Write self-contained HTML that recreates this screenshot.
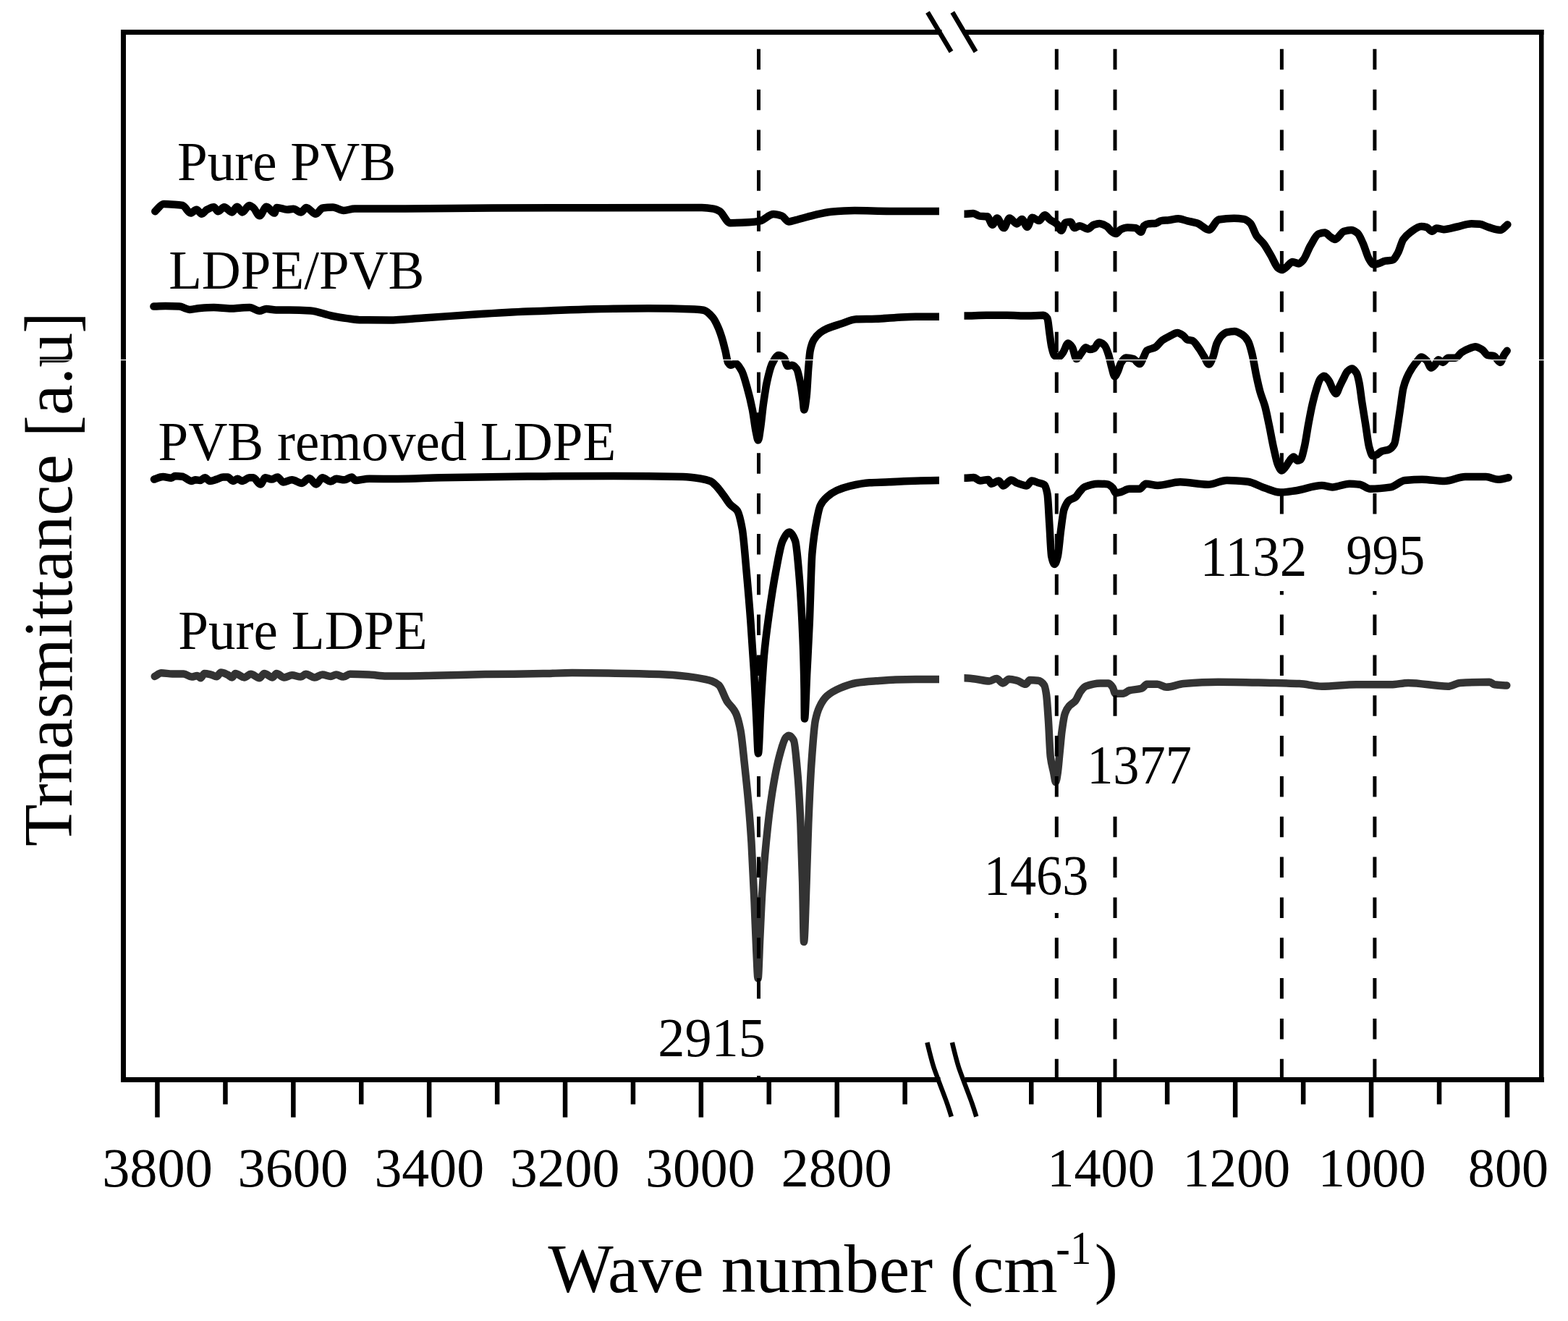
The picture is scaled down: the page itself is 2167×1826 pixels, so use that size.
<!DOCTYPE html>
<html><head><meta charset="utf-8"><title>FTIR spectra</title>
<style>
html,body{margin:0;padding:0;background:#fff;}
body{width:2167px;height:1826px;overflow:hidden;}
svg{display:block;}
text{font-family:"Liberation Serif","Times New Roman",serif;fill:#000;}
</style></head>
<body>
<svg width="2167" height="1826" viewBox="0 0 2167 1826">
<defs>
<clipPath id="clipL"><rect x="0" y="0" width="1298.0" height="1826"/></clipPath>
<clipPath id="clipR"><rect x="1332.5" y="0" width="834.5" height="1826"/></clipPath>
</defs>
<rect width="2167" height="1826" fill="#fff"/>
<g id="spectra">
<g clip-path="url(#clipL)">
<path d="M213.8,934.9 C216.8,933.4 219.9,930.3 222.9,930.3 C228.0,930.3 233.1,931.4 238.2,931.4 C243.3,931.4 248.4,931.4 253.5,931.4 C257.3,931.4 261.1,935.6 264.9,935.6 C267.5,935.6 270.0,934.1 272.6,934.1 C274.1,934.1 275.7,937.2 277.2,937.2 C279.0,937.2 280.7,931.0 282.5,931.0 C285.6,931.0 288.6,931.9 291.7,932.6 C294.2,933.2 296.8,935.2 299.3,935.2 C301.3,935.2 303.4,929.5 305.4,929.5 C308.5,929.5 311.5,931.2 314.6,932.6 C316.6,933.5 318.7,936.4 320.7,936.4 C322.2,936.4 323.8,931.0 325.3,931.0 C329.4,931.0 333.4,936.4 337.5,936.4 C340.6,936.4 343.6,931.8 346.7,931.8 C350.6,931.8 354.5,937.2 358.4,937.2 C360.7,937.2 363.0,931.0 365.3,931.0 C369.1,931.0 372.9,936.4 376.7,936.4 C378.5,936.4 380.3,931.0 382.1,931.0 C385.7,931.0 389.2,936.4 392.8,936.4 C396.4,936.4 399.9,933.3 403.5,933.3 C407.6,933.3 411.6,935.6 415.7,935.6 C418.0,935.6 420.3,931.8 422.6,931.8 C426.7,931.8 430.7,936.4 434.8,936.4 C438.4,936.4 441.9,932.6 445.5,932.6 C449.3,932.6 453.2,934.9 457.0,934.9 C459.5,934.9 462.1,932.6 464.6,932.6 C467.9,932.6 471.2,935.6 474.5,935.6 C477.6,935.6 480.6,931.8 483.7,931.8 C492.5,931.8 501.2,932.2 510.0,932.6 C518.1,933.0 526.2,934.6 534.3,934.6 C556.2,934.6 578.1,934.1 600.0,933.7 C623.4,933.3 646.8,932.5 670.2,932.1 C696.9,931.7 723.7,931.6 750.4,931.1 C763.8,930.9 777.2,930.1 790.6,930.1 C810.6,930.1 830.7,930.4 850.7,930.7 C870.8,931.0 890.8,931.4 910.9,932.1 C924.3,932.6 937.6,933.7 951.0,935.1 C959.0,936.0 967.1,937.4 975.1,939.1 C978.1,939.7 981.0,940.4 984.0,941.5 C987.2,942.7 990.4,944.3 993.6,947.2 C997.2,950.5 1000.9,963.0 1004.5,968.9 C1008.6,975.5 1012.6,977.0 1016.7,985.3 C1019.0,989.9 1021.2,998.1 1023.5,1009.7 C1025.3,1018.9 1027.1,1039.4 1028.9,1055.9 C1030.7,1072.7 1032.6,1089.4 1034.4,1110.3 C1035.8,1125.9 1037.1,1142.7 1038.5,1164.7 C1039.8,1186.2 1041.2,1216.6 1042.5,1246.3 C1043.4,1267.1 1044.4,1295.9 1045.3,1314.2 C1046.1,1329.2 1046.8,1352.5 1047.6,1352.5 C1048.4,1352.5 1049.3,1317.8 1050.1,1300.6 C1051.2,1277.9 1052.3,1250.2 1053.4,1232.7 C1055.2,1204.0 1057.0,1183.0 1058.8,1164.7 C1061.5,1137.0 1064.3,1113.9 1067.0,1096.7 C1070.6,1073.8 1074.3,1055.2 1077.9,1042.3 C1080.6,1032.7 1083.3,1022.2 1086.0,1019.5 C1087.4,1018.1 1088.7,1016.8 1090.1,1016.8 C1092.4,1016.8 1094.6,1019.3 1096.9,1023.3 C1098.7,1026.5 1100.5,1048.9 1102.3,1069.5 C1103.7,1085.2 1105.0,1107.6 1106.4,1137.5 C1107.3,1157.2 1108.2,1186.6 1109.1,1219.1 C1109.7,1242.0 1110.4,1302.0 1111.0,1302.0 C1112.2,1302.0 1113.4,1250.7 1114.6,1219.1 C1115.5,1195.4 1116.4,1159.4 1117.3,1137.5 C1118.7,1104.2 1120.0,1075.6 1121.4,1055.9 C1123.2,1029.9 1125.0,1005.2 1126.8,996.1 C1128.8,986.2 1130.7,981.1 1132.7,977.0 C1136.0,970.0 1139.4,965.2 1142.7,962.2 C1148.7,956.8 1154.8,953.9 1160.8,951.3 C1168.4,948.1 1175.9,945.2 1183.5,944.0 C1192.6,942.6 1201.6,942.0 1210.7,941.3 C1219.8,940.6 1228.9,939.8 1238.0,939.5 C1247.1,939.2 1256.1,939.0 1265.2,939.0 C1275.8,939.0 1286.4,939.0 1297.0,939.0 C1299.7,939.0 1302.3,939.0 1305.0,939.0" fill="none" stroke="#333" stroke-width="10.5" stroke-linejoin="round" stroke-linecap="round"/>
<path d="M213.0,662.6 C217.1,661.4 221.1,659.1 225.2,659.1 C229.0,659.1 232.9,660.7 236.7,660.7 C238.5,660.7 240.2,658.0 242.0,658.0 C245.3,658.0 248.7,658.4 252.0,658.8 C256.3,659.4 260.7,664.9 265.0,664.9 C266.8,664.9 268.5,663.3 270.3,663.3 C272.3,663.3 274.4,664.1 276.4,664.1 C278.7,664.1 281.0,660.3 283.3,660.3 C285.6,660.3 287.8,664.9 290.1,664.9 C293.2,664.9 296.2,663.5 299.3,662.6 C302.4,661.7 305.4,659.5 308.5,659.5 C310.5,659.5 312.6,659.5 314.6,659.5 C317.1,659.5 319.7,664.9 322.2,664.9 C324.2,664.9 326.3,661.8 328.3,661.8 C330.4,661.8 332.4,664.9 334.5,664.9 C338.0,664.9 341.6,660.3 345.1,660.3 C346.7,660.3 348.4,660.3 350.0,660.3 C353.3,660.3 356.6,669.4 359.9,669.4 C362.2,669.4 364.5,660.3 366.8,660.3 C369.6,660.3 372.4,662.6 375.2,662.6 C378.0,662.6 380.8,659.5 383.6,659.5 C386.2,659.5 388.7,666.4 391.3,666.4 C395.4,666.4 399.4,663.3 403.5,663.3 C408.1,663.3 412.6,667.9 417.2,667.9 C420.5,667.9 423.9,661.0 427.2,661.0 C430.5,661.0 433.8,669.4 437.1,669.4 C439.9,669.4 442.7,660.3 445.5,660.3 C449.3,660.3 453.2,665.6 457.0,665.6 C459.5,665.6 462.1,661.8 464.6,661.8 C468.4,661.8 472.2,663.3 476.0,663.3 C479.3,663.3 482.7,659.5 486.0,659.5 C487.8,659.5 489.5,664.1 491.3,664.1 C497.5,664.1 503.8,661.8 510.0,661.8 C523.2,661.8 536.5,662.0 549.7,662.0 C569.6,662.0 589.5,660.7 609.4,660.3 C649.2,659.5 689.0,658.9 728.8,658.6 C768.6,658.3 808.4,657.9 848.2,657.9 C880.0,657.9 911.9,658.3 943.7,659.1 C951.7,659.3 959.6,660.3 967.6,661.5 C972.4,662.2 977.1,663.1 981.9,665.1 C984.6,666.2 987.3,669.3 990.0,672.0 C993.4,675.4 996.8,680.4 1000.2,684.9 C1003.3,689.0 1006.4,694.4 1009.5,697.7 C1012.6,701.0 1015.7,701.3 1018.8,705.8 C1021.1,709.2 1023.5,718.7 1025.8,731.4 C1027.7,741.9 1029.7,768.4 1031.6,789.5 C1033.5,810.6 1035.5,833.5 1037.4,859.3 C1039.0,880.2 1040.5,902.3 1042.1,929.1 C1043.3,949.1 1044.4,976.4 1045.6,998.8 C1046.4,1013.5 1047.1,1041.5 1047.9,1041.5 C1049.1,1041.5 1050.2,995.3 1051.4,975.6 C1052.9,949.7 1054.5,922.6 1056.0,905.8 C1058.3,880.2 1060.7,864.5 1063.0,847.7 C1066.1,825.4 1069.2,805.7 1072.3,789.5 C1075.4,773.3 1078.5,754.0 1081.6,747.7 C1084.7,741.4 1087.8,735.5 1090.9,735.5 C1093.6,735.5 1096.4,740.4 1099.1,747.7 C1101.0,752.9 1103.0,777.5 1104.9,801.2 C1106.4,820.0 1108.0,845.0 1109.5,882.6 C1110.2,898.9 1110.8,913.3 1111.5,952.3 C1111.6,960.1 1111.8,993.5 1111.9,993.5 C1113.0,993.5 1114.2,951.0 1115.3,929.0 C1116.5,906.3 1117.6,885.9 1118.8,859.3 C1120.0,832.7 1121.1,780.4 1122.3,766.3 C1124.6,738.8 1126.8,728.6 1129.1,717.1 C1130.6,709.5 1132.1,702.1 1133.6,699.0 C1136.6,692.7 1139.7,689.9 1142.7,687.2 C1147.2,683.1 1151.8,680.2 1156.3,678.1 C1162.3,675.3 1168.4,673.2 1174.4,671.8 C1183.5,669.7 1192.6,667.7 1201.7,667.2 C1210.8,666.7 1219.8,666.7 1228.9,666.3 C1238.0,665.9 1247.0,665.3 1256.1,665.0 C1269.7,664.5 1283.4,664.0 1297.0,664.0 C1299.7,664.0 1302.3,664.0 1305.0,664.0" fill="none" stroke="#000" stroke-width="10.5" stroke-linejoin="round" stroke-linecap="round"/>
<path d="M212.4,423.6 C217.8,423.4 223.3,423.1 228.7,423.1 C235.1,423.1 241.4,423.3 247.8,423.6 C252.6,423.8 257.3,427.9 262.1,427.9 C266.9,427.9 271.6,426.3 276.4,426.0 C282.8,425.5 289.1,425.1 295.5,425.1 C303.5,425.1 311.4,426.5 319.4,426.5 C324.2,426.5 328.9,425.7 333.7,425.5 C337.5,425.3 341.4,425.1 345.2,425.1 C349.6,425.1 354.1,429.8 358.5,429.8 C361.7,429.8 364.9,427.0 368.1,427.0 C372.6,427.0 377.0,428.4 381.5,428.4 C387.7,428.4 393.8,428.4 400.0,428.4 C409.7,428.4 419.5,428.8 429.2,429.4 C438.8,430.0 448.3,434.6 457.9,436.5 C465.1,437.9 472.2,439.2 479.4,440.1 C486.3,441.0 493.1,442.2 500.0,442.3 C512.6,442.4 525.2,442.5 537.8,442.5 C553.7,442.5 569.6,440.4 585.5,439.4 C609.4,437.8 633.2,436.1 657.1,434.6 C681.0,433.1 704.9,431.6 728.8,430.6 C768.6,428.9 808.4,427.2 848.2,426.7 C864.1,426.5 880.0,426.3 895.9,426.3 C917.3,426.3 938.6,426.7 960.0,427.5 C964.2,427.7 968.3,428.0 972.5,428.7 C976.6,429.4 980.8,433.9 984.9,438.7 C987.4,441.6 989.9,446.8 992.4,452.4 C994.1,456.1 995.7,460.8 997.4,466.1 C999.1,471.4 1000.7,478.1 1002.4,484.8 C1003.7,489.9 1004.9,499.1 1006.2,501.1 C1007.4,503.1 1008.7,504.8 1009.9,504.8 C1012.0,504.8 1014.0,502.3 1016.1,502.3 C1019.0,502.3 1022.0,507.4 1024.9,512.3 C1027.4,516.4 1029.8,526.1 1032.3,534.7 C1034.8,543.5 1037.3,553.3 1039.8,565.9 C1041.5,574.3 1043.1,589.4 1044.8,597.1 C1045.8,601.7 1046.8,608.5 1047.8,608.5 C1048.9,608.5 1050.0,598.1 1051.1,590.9 C1052.3,582.9 1053.6,568.6 1054.8,559.7 C1056.5,547.7 1058.1,536.1 1059.8,528.5 C1062.3,517.1 1064.8,507.1 1067.3,502.3 C1070.2,496.8 1073.1,491.1 1076.0,491.1 C1078.5,491.1 1081.0,492.7 1083.5,494.8 C1085.2,496.2 1086.8,506.0 1088.5,506.0 C1090.6,506.0 1092.6,504.8 1094.7,504.8 C1096.8,504.8 1098.9,507.0 1101.0,509.8 C1102.6,512.0 1104.3,520.5 1105.9,528.5 C1107.2,534.7 1108.4,543.7 1109.7,553.4 C1110.2,557.2 1110.7,566.5 1111.2,566.5 C1112.4,566.5 1113.5,556.8 1114.7,547.2 C1115.5,540.3 1116.4,519.8 1117.2,509.8 C1118.0,499.8 1118.9,488.9 1119.7,484.8 C1121.3,476.7 1123.0,472.7 1124.6,469.9 C1127.5,464.8 1130.5,462.2 1133.4,459.9 C1136.5,457.5 1139.6,455.8 1142.7,454.4 C1148.7,451.7 1154.8,450.0 1160.8,448.1 C1168.4,445.7 1175.9,441.6 1183.5,441.3 C1192.6,441.0 1201.6,441.1 1210.7,440.8 C1219.8,440.5 1228.9,439.5 1238.0,439.0 C1247.1,438.5 1256.1,437.7 1265.2,437.7 C1275.8,437.7 1286.4,437.7 1297.0,437.7 C1299.7,437.7 1302.3,437.7 1305.0,437.7" fill="none" stroke="#000" stroke-width="10.5" stroke-linejoin="round" stroke-linecap="round"/>
<path d="M214.3,292.2 C218.3,288.8 222.3,282.1 226.3,282.1 C231.1,282.1 235.8,282.4 240.6,282.7 C244.6,282.9 248.5,283.2 252.5,283.9 C256.1,284.6 259.7,294.6 263.3,294.6 C266.1,294.6 268.8,289.8 271.6,289.8 C274.0,289.8 276.4,295.8 278.8,295.8 C281.2,295.8 283.6,291.0 286.0,289.8 C289.2,288.2 292.3,286.3 295.5,286.3 C297.5,286.3 299.5,292.2 301.5,292.2 C304.3,292.2 307.0,286.3 309.8,286.3 C313.4,286.3 317.0,293.4 320.6,293.4 C323.0,293.4 325.3,285.7 327.7,285.7 C330.1,285.7 332.5,293.4 334.9,293.4 C338.1,293.4 341.3,283.9 344.5,283.9 C346.5,283.9 348.4,285.9 350.4,287.5 C353.2,289.8 356.0,298.2 358.8,298.2 C362.0,298.2 365.1,285.7 368.3,285.7 C371.9,285.7 375.5,294.6 379.1,294.6 C380.3,294.6 381.5,286.9 382.7,286.9 C387.5,286.9 392.2,289.8 397.0,289.8 C399.8,289.8 402.5,288.7 405.3,288.7 C408.9,288.7 412.5,293.4 416.1,293.4 C418.5,293.4 420.9,286.9 423.3,286.9 C427.7,286.9 432.0,295.8 436.4,295.8 C439.6,295.8 442.7,287.9 445.9,287.5 C450.6,286.8 455.3,286.5 460.0,286.5 C465.0,286.5 470.0,291.0 475.0,291.0 C480.0,291.0 485.0,288.5 490.0,288.5 C513.3,288.5 536.7,288.5 560.0,288.5 C600.0,288.5 640.0,287.6 680.0,287.5 C776.7,287.2 873.3,287.0 970.0,287.0 C975.4,287.0 980.8,287.7 986.2,288.7 C988.9,289.2 991.7,290.4 994.4,291.9 C999.3,294.6 1004.1,308.2 1009.0,308.2 C1017.6,308.2 1026.3,307.8 1034.9,307.3 C1039.8,307.0 1044.7,306.6 1049.6,305.7 C1056.1,304.6 1062.5,296.0 1069.0,296.0 C1072.8,296.0 1076.6,297.1 1080.4,298.4 C1083.6,299.5 1086.9,306.5 1090.1,306.5 C1093.4,306.5 1096.6,304.9 1099.9,304.1 C1108.0,302.0 1116.1,299.5 1124.2,297.6 C1132.3,295.7 1140.5,293.4 1148.6,292.7 C1159.4,291.8 1170.3,291.1 1181.1,291.1 C1197.3,291.1 1213.6,291.9 1229.8,291.9 C1252.3,291.9 1274.7,291.9 1297.2,291.9 C1299.9,291.9 1302.5,291.9 1305.2,291.9" fill="none" stroke="#000" stroke-width="10.5" stroke-linejoin="round" stroke-linecap="round"/>
</g>
<g clip-path="url(#clipR)">
<path d="M1324.9,937.2 C1327.6,937.2 1330.2,937.2 1332.9,937.2 C1338.2,937.2 1343.4,938.1 1348.7,938.7 C1354.9,939.4 1361.1,941.5 1367.3,941.5 C1370.6,941.5 1374.0,937.9 1377.3,937.9 C1380.2,937.9 1383.0,944.4 1385.9,944.4 C1388.8,944.4 1391.6,938.7 1394.5,938.7 C1398.3,938.7 1402.2,939.8 1406.0,940.8 C1409.8,941.8 1413.6,945.8 1417.4,945.8 C1419.3,945.8 1421.3,940.1 1423.2,940.1 C1427.0,940.1 1430.8,940.4 1434.6,940.8 C1437.5,941.1 1440.3,943.1 1443.2,947.2 C1444.2,948.6 1445.1,953.7 1446.1,960.1 C1447.0,966.3 1448.0,982.3 1448.9,996.0 C1449.9,1010.2 1450.8,1038.3 1451.8,1046.1 C1453.2,1057.6 1454.7,1060.7 1456.1,1067.6 C1457.1,1072.2 1458.0,1081.0 1459.0,1081.0 C1459.9,1081.0 1460.9,1073.6 1461.8,1067.6 C1462.8,1061.4 1463.7,1048.4 1464.7,1038.9 C1465.7,1029.4 1466.6,1017.4 1467.6,1010.3 C1469.0,999.8 1470.5,989.8 1471.9,985.9 C1473.8,980.7 1475.7,978.1 1477.6,975.9 C1480.5,972.6 1483.3,972.0 1486.2,968.7 C1488.6,965.9 1491.0,958.9 1493.4,955.8 C1495.8,952.8 1498.1,949.6 1500.5,948.7 C1507.2,946.1 1513.9,944.4 1520.6,944.4 C1524.4,944.4 1528.2,944.4 1532.0,944.4 C1533.9,944.4 1535.9,947.3 1537.8,950.1 C1539.0,951.8 1540.1,958.7 1541.3,958.7 C1544.9,958.7 1548.5,958.7 1552.1,958.7 C1555.0,958.7 1557.8,955.2 1560.7,954.4 C1566.4,952.9 1572.2,953.3 1577.9,951.5 C1580.3,950.8 1582.6,945.8 1585.0,945.8 C1589.8,945.8 1594.6,945.8 1599.4,945.8 C1603.6,945.8 1607.7,949.8 1611.9,949.8 C1619.9,949.8 1627.8,945.8 1635.8,945.1 C1651.7,943.7 1667.7,942.7 1683.6,942.7 C1707.5,942.7 1731.3,943.4 1755.2,943.9 C1768.7,944.2 1782.3,944.4 1795.8,945.1 C1806.1,945.6 1816.5,948.7 1826.8,948.7 C1842.7,948.7 1858.7,946.3 1874.6,946.3 C1890.5,946.3 1906.4,946.3 1922.3,946.3 C1930.3,946.3 1938.2,943.9 1946.2,943.9 C1964.5,943.9 1982.8,948.7 2001.1,948.7 C2006.7,948.7 2012.3,944.2 2017.9,943.9 C2031.4,943.1 2045.0,942.7 2058.5,942.7 C2060.9,942.7 2063.2,946.0 2065.6,946.3 C2071.2,947.1 2076.7,947.1 2082.3,947.5" fill="none" stroke="#333" stroke-width="10.5" stroke-linejoin="round" stroke-linecap="round"/>
<path d="M1324.9,660.8 C1327.6,660.8 1330.2,660.8 1332.9,660.8 C1337.2,660.8 1341.5,660.1 1345.8,660.1 C1348.7,660.1 1351.5,664.4 1354.4,664.4 C1358.2,664.4 1362.0,662.9 1365.8,662.9 C1367.2,662.9 1368.7,668.7 1370.1,668.7 C1373.5,668.7 1376.8,664.4 1380.2,664.4 C1382.3,664.4 1384.5,671.5 1386.6,671.5 C1390.2,671.5 1393.8,663.6 1397.4,663.6 C1400.3,663.6 1403.1,666.9 1406.0,667.9 C1410.3,669.5 1414.6,671.5 1418.9,671.5 C1421.3,671.5 1423.6,664.4 1426.0,664.4 C1428.9,664.4 1431.7,666.3 1434.6,667.2 C1437.5,668.1 1440.3,668.2 1443.2,670.1 C1444.6,671.1 1446.1,675.5 1447.5,683.0 C1448.5,688.0 1449.4,711.4 1450.4,726.0 C1451.3,740.1 1452.3,764.6 1453.2,768.9 C1454.6,775.6 1456.1,780.0 1457.5,780.0 C1458.9,780.0 1460.4,774.5 1461.8,768.9 C1463.2,763.3 1464.7,743.7 1466.1,733.1 C1467.5,722.5 1469.0,708.8 1470.4,704.5 C1472.8,697.4 1475.2,693.5 1477.6,691.6 C1480.5,689.3 1483.3,689.4 1486.2,687.3 C1488.1,685.9 1490.0,682.2 1491.9,680.1 C1494.3,677.4 1496.7,674.0 1499.1,673.0 C1505.3,670.4 1511.5,668.7 1517.7,668.7 C1522.0,668.7 1526.3,668.9 1530.6,669.4 C1533.0,669.7 1535.4,672.0 1537.8,674.4 C1539.2,675.9 1540.7,681.5 1542.1,681.5 C1544.5,681.5 1546.8,680.7 1549.2,680.1 C1553.0,679.1 1556.9,675.8 1560.7,675.8 C1565.5,675.8 1570.2,675.8 1575.0,675.8 C1577.9,675.8 1580.7,668.7 1583.6,668.7 C1589.1,668.7 1594.5,671.0 1600.0,671.0 C1610.3,671.0 1620.7,666.3 1631.0,666.3 C1643.7,666.3 1656.5,669.8 1669.2,669.8 C1678.0,669.8 1686.7,663.9 1695.5,663.9 C1705.1,663.9 1714.6,664.7 1724.2,665.8 C1732.1,666.7 1740.1,672.1 1748.0,674.6 C1755.2,676.9 1762.3,680.6 1769.5,680.6 C1776.7,680.6 1783.8,679.2 1791.0,678.2 C1802.9,676.5 1814.9,671.0 1826.8,671.0 C1831.6,671.0 1836.4,673.4 1841.2,673.4 C1849.1,673.4 1857.1,668.7 1865.0,668.7 C1869.8,668.7 1874.6,669.2 1879.4,669.8 C1884.2,670.4 1888.9,675.8 1893.7,675.8 C1903.2,675.8 1912.8,674.8 1922.3,673.4 C1928.7,672.4 1935.1,664.5 1941.5,663.9 C1949.4,663.2 1957.4,662.7 1965.3,662.7 C1975.7,662.7 1986.0,665.1 1996.4,665.1 C2005.9,665.1 2015.5,659.1 2025.0,659.1 C2034.6,659.1 2044.1,659.1 2053.7,659.1 C2059.3,659.1 2064.8,662.7 2070.4,662.7 C2075.2,662.7 2079.9,661.1 2084.7,660.3" fill="none" stroke="#000" stroke-width="10.5" stroke-linejoin="round" stroke-linecap="round"/>
<path d="M1324.2,436.5 C1326.9,436.5 1329.5,436.5 1332.2,436.5 C1342.5,436.5 1352.7,435.8 1363.0,435.8 C1372.5,435.8 1382.1,435.8 1391.6,435.8 C1401.2,435.8 1410.7,436.5 1420.3,436.5 C1427.5,436.5 1434.6,435.8 1441.8,435.8 C1443.7,435.8 1445.6,437.3 1447.5,440.1 C1448.5,441.5 1449.4,453.5 1450.4,460.1 C1451.3,466.4 1452.3,474.8 1453.2,478.8 C1454.6,484.9 1456.1,491.0 1457.5,491.7 C1459.4,492.6 1461.4,493.1 1463.3,493.1 C1465.2,493.1 1467.1,489.8 1469.0,487.4 C1471.4,484.4 1473.8,474.5 1476.2,474.5 C1478.1,474.5 1480.0,477.4 1481.9,480.2 C1483.8,483.0 1485.7,496.0 1487.6,496.0 C1490.0,496.0 1492.4,490.4 1494.8,487.4 C1496.7,485.1 1498.6,480.2 1500.5,480.2 C1502.4,480.2 1504.3,483.1 1506.2,483.1 C1508.1,483.1 1510.1,482.4 1512.0,481.6 C1514.4,480.6 1516.7,473.0 1519.1,473.0 C1521.5,473.0 1523.9,475.0 1526.3,477.3 C1528.2,479.1 1530.1,484.6 1532.0,490.2 C1533.4,494.4 1534.9,502.5 1536.3,507.4 C1537.7,512.3 1539.2,520.3 1540.6,520.3 C1542.0,520.3 1543.5,516.1 1544.9,513.2 C1546.3,510.3 1547.8,503.9 1549.2,501.7 C1551.6,498.1 1554.0,494.5 1556.4,494.5 C1559.7,494.5 1563.1,495.1 1566.4,496.0 C1569.3,496.7 1572.1,503.1 1575.0,503.1 C1576.9,503.1 1578.8,496.7 1580.7,493.1 C1582.1,490.4 1583.6,485.5 1585.0,484.5 C1588.8,481.8 1592.7,482.3 1596.5,480.2 C1599.8,478.4 1603.2,472.6 1606.5,470.2 C1610.2,467.5 1614.0,465.8 1617.7,464.0 C1620.9,462.5 1624.0,459.9 1627.2,459.9 C1629.9,459.9 1632.7,462.1 1635.4,464.0 C1637.2,465.2 1639.0,468.9 1640.8,469.5 C1643.1,470.2 1645.3,470.1 1647.6,470.8 C1650.8,471.8 1653.9,477.4 1657.1,481.7 C1659.4,484.8 1661.6,489.0 1663.9,492.6 C1666.2,496.2 1668.4,503.5 1670.7,503.5 C1672.5,503.5 1674.4,498.2 1676.2,493.9 C1678.0,489.7 1679.8,478.9 1681.6,474.9 C1683.9,469.8 1686.1,466.2 1688.4,464.0 C1690.7,461.8 1692.9,459.8 1695.2,459.3 C1698.8,458.5 1702.5,457.9 1706.1,457.9 C1709.7,457.9 1713.4,460.3 1717.0,462.7 C1719.7,464.5 1722.5,467.4 1725.2,472.2 C1727.0,475.4 1728.8,482.7 1730.6,489.9 C1732.4,497.3 1734.3,509.8 1736.1,518.4 C1737.9,526.9 1739.7,535.2 1741.5,541.6 C1743.8,549.7 1746.0,553.7 1748.3,562.0 C1750.1,568.6 1751.9,578.0 1753.7,586.5 C1756.0,597.3 1758.2,610.5 1760.5,620.5 C1762.3,628.6 1764.2,638.2 1766.0,642.2 C1767.8,646.1 1769.6,650.4 1771.4,650.4 C1773.2,650.4 1775.1,647.2 1776.9,645.0 C1778.7,642.9 1780.5,638.9 1782.3,636.8 C1784.1,634.6 1786.0,631.4 1787.8,631.4 C1789.6,631.4 1791.4,636.8 1793.2,636.8 C1794.6,636.8 1795.9,636.2 1797.3,635.4 C1799.1,634.3 1800.9,625.3 1802.7,617.8 C1804.5,610.2 1806.4,596.3 1808.2,586.5 C1810.0,576.9 1811.8,567.1 1813.6,559.3 C1815.4,551.5 1817.2,544.5 1819.0,538.8 C1820.8,533.0 1822.7,526.1 1824.5,523.9 C1826.3,521.8 1828.1,519.8 1829.9,519.8 C1832.2,519.8 1834.4,523.4 1836.7,526.6 C1838.5,529.2 1840.4,535.8 1842.2,538.8 C1843.6,541.1 1844.9,544.3 1846.3,544.3 C1848.1,544.3 1849.9,537.0 1851.7,533.4 C1853.2,530.4 1854.6,527.3 1856.1,524.5 C1858.2,520.5 1860.2,515.1 1862.3,513.3 C1864.4,511.4 1866.5,509.6 1868.6,509.6 C1870.7,509.6 1872.7,512.4 1874.8,515.8 C1876.0,517.8 1877.3,523.5 1878.5,529.5 C1879.7,535.5 1881.0,547.3 1882.2,555.5 C1883.9,566.5 1885.5,576.1 1887.2,586.6 C1888.8,596.8 1890.5,611.8 1892.1,617.6 C1893.8,623.5 1895.4,630.0 1897.1,630.0 C1898.8,630.0 1900.4,629.4 1902.1,628.8 C1904.6,628.0 1907.0,624.7 1909.5,623.8 C1912.8,622.6 1916.2,622.7 1919.5,621.3 C1922.0,620.3 1924.4,618.3 1926.9,613.9 C1928.6,611.0 1930.2,596.7 1931.9,586.6 C1933.1,579.1 1934.4,570.0 1935.6,561.7 C1936.8,553.4 1938.1,542.1 1939.3,536.9 C1941.0,529.9 1942.6,525.8 1944.3,522.0 C1946.8,516.3 1949.2,512.2 1951.7,508.4 C1954.2,504.5 1956.7,501.2 1959.2,498.4 C1960.9,496.5 1962.5,493.5 1964.2,493.5 C1966.7,493.5 1969.1,496.1 1971.6,498.4 C1973.7,500.4 1975.7,508.4 1977.8,508.4 C1979.5,508.4 1981.1,506.3 1982.8,504.6 C1984.5,502.9 1986.1,497.2 1987.8,497.2 C1989.9,497.2 1991.9,500.9 1994.0,500.9 C1996.5,500.9 1998.9,494.7 2001.4,494.7 C2004.7,494.7 2008.0,494.7 2011.3,494.7 C2014.2,494.7 2017.1,489.1 2020.0,487.2 C2024.1,484.5 2028.3,482.5 2032.4,481.0 C2034.5,480.3 2036.6,479.2 2038.7,479.2 C2042.0,479.2 2045.3,481.5 2048.6,483.5 C2051.1,485.0 2053.5,490.4 2056.0,491.0 C2058.9,491.7 2061.8,491.5 2064.7,492.2 C2067.6,492.9 2070.5,500.9 2073.4,500.9 C2075.1,500.9 2076.7,493.8 2078.4,491.0 C2079.8,488.6 2081.3,486.9 2082.7,484.8" fill="none" stroke="#000" stroke-width="10.5" stroke-linejoin="round" stroke-linecap="round"/>
<path d="M1324.2,295.8 C1326.9,295.8 1329.5,295.8 1332.2,295.8 C1336.5,295.8 1340.8,295.0 1345.1,295.0 C1348.0,295.0 1350.8,298.3 1353.7,298.6 C1357.3,299.0 1360.8,298.8 1364.4,299.3 C1366.8,299.6 1369.2,310.8 1371.6,310.8 C1373.7,310.8 1375.9,301.5 1378.0,301.5 C1381.1,301.5 1384.2,315.1 1387.3,315.1 C1389.9,315.1 1392.6,301.5 1395.2,301.5 C1398.5,301.5 1401.9,309.4 1405.2,309.4 C1407.6,309.4 1410.0,302.9 1412.4,302.9 C1414.8,302.9 1417.2,313.7 1419.6,313.7 C1422.0,313.7 1424.3,300.8 1426.7,300.8 C1429.8,300.8 1432.9,305.1 1436.0,305.1 C1438.6,305.1 1441.3,297.2 1443.9,297.2 C1446.3,297.2 1448.7,301.8 1451.1,303.6 C1454.4,306.1 1457.8,307.0 1461.1,310.1 C1463.0,311.9 1464.9,318.7 1466.8,318.7 C1468.6,318.7 1470.4,308.4 1472.2,307.9 C1474.6,307.2 1476.9,306.8 1479.3,306.8 C1481.2,306.8 1483.2,315.1 1485.1,315.1 C1487.5,315.1 1489.8,312.2 1492.2,312.2 C1495.8,312.2 1499.4,316.5 1503.0,316.5 C1505.9,316.5 1508.7,311.8 1511.6,310.8 C1514.2,309.9 1516.8,309.0 1519.4,309.0 C1522.8,309.0 1526.1,311.0 1529.5,312.9 C1531.9,314.3 1534.2,318.5 1536.6,320.1 C1538.5,321.4 1540.5,323.0 1542.4,323.0 C1544.5,323.0 1546.7,318.2 1548.8,317.2 C1551.9,315.8 1555.0,314.4 1558.1,314.4 C1561.9,314.4 1565.8,314.6 1569.6,315.1 C1572.0,315.4 1574.3,320.8 1576.7,320.8 C1578.1,320.8 1579.6,313.3 1581.0,312.2 C1582.9,310.6 1584.9,309.6 1586.8,309.4 C1590.4,309.0 1593.9,309.1 1597.5,308.7 C1599.9,308.4 1602.3,305.4 1604.7,305.1 C1608.1,304.6 1611.6,304.6 1615.0,304.3 C1619.5,303.8 1624.1,302.3 1628.6,302.3 C1632.7,302.3 1636.9,304.4 1641.0,305.4 C1645.5,306.5 1650.1,307.0 1654.6,308.5 C1660.0,310.2 1665.4,317.8 1670.8,317.8 C1675.3,317.8 1679.9,304.3 1684.4,303.5 C1691.4,302.3 1698.5,301.7 1705.5,301.7 C1710.1,301.7 1714.6,302.2 1719.2,302.9 C1722.1,303.4 1725.0,305.7 1727.9,308.5 C1730.8,311.3 1733.7,321.7 1736.6,325.9 C1739.9,330.7 1743.2,332.6 1746.5,337.0 C1749.8,341.4 1753.1,347.6 1756.4,353.2 C1759.7,358.8 1763.1,368.1 1766.4,370.6 C1768.0,371.8 1769.7,373.1 1771.3,373.1 C1773.4,373.1 1775.5,370.8 1777.6,369.3 C1780.5,367.3 1783.3,361.9 1786.2,361.9 C1789.1,361.9 1792.0,364.4 1794.9,364.4 C1797.0,364.4 1799.0,361.7 1801.1,359.4 C1804.4,355.7 1807.8,345.1 1811.1,339.5 C1814.8,333.3 1818.5,324.8 1822.2,323.4 C1825.1,322.3 1828.0,321.5 1830.9,321.5 C1833.4,321.5 1835.9,325.5 1838.4,327.1 C1840.6,328.5 1842.8,330.9 1845.0,330.9 C1849.1,330.9 1853.3,320.9 1857.4,319.7 C1860.7,318.7 1864.0,317.9 1867.3,317.9 C1870.2,317.9 1873.1,319.9 1876.0,322.2 C1878.5,324.2 1881.0,330.6 1883.5,335.9 C1886.4,342.0 1889.2,353.6 1892.1,358.2 C1894.2,361.6 1896.3,365.7 1898.4,365.7 C1900.5,365.7 1902.5,364.9 1904.6,364.4 C1907.9,363.5 1911.2,361.3 1914.5,360.7 C1917.8,360.1 1921.1,360.3 1924.4,359.5 C1926.9,358.9 1929.4,353.9 1931.9,349.5 C1934.4,345.2 1936.8,334.5 1939.3,330.9 C1942.6,326.1 1946.0,323.4 1949.3,321.0 C1954.3,317.4 1959.2,312.9 1964.2,312.9 C1966.7,312.9 1969.1,313.4 1971.6,314.1 C1974.1,314.8 1976.6,319.7 1979.1,319.7 C1981.2,319.7 1983.2,315.4 1985.3,315.4 C1988.6,315.4 1991.9,317.2 1995.2,317.2 C2001.4,317.2 2007.6,314.8 2013.8,313.5 C2020.4,312.1 2027.1,309.2 2033.7,309.2 C2037.4,309.2 2041.2,309.5 2044.9,309.8 C2049.0,310.2 2053.2,312.9 2057.3,314.1 C2062.7,315.6 2068.0,317.9 2073.4,317.9 C2076.7,317.9 2080.1,312.9 2083.4,310.4" fill="none" stroke="#000" stroke-width="10.5" stroke-linejoin="round" stroke-linecap="round"/>
</g>
</g>
<g id="dashes">
<line x1="1048.5" y1="67.8" x2="1048.5" y2="1492" stroke="#000" stroke-width="5" stroke-dasharray="28.5 27.34"/>
<line x1="1460.3" y1="67.8" x2="1460.3" y2="1492" stroke="#000" stroke-width="5" stroke-dasharray="28.5 27.34"/>
<line x1="1541.0" y1="67.8" x2="1541.0" y2="1492" stroke="#000" stroke-width="5" stroke-dasharray="28.5 27.34"/>
<line x1="1771.4" y1="67.8" x2="1771.4" y2="1492" stroke="#000" stroke-width="5" stroke-dasharray="28.5 27.34"/>
<line x1="1899.9" y1="67.8" x2="1899.9" y2="1492" stroke="#000" stroke-width="5" stroke-dasharray="28.5 27.34"/>
</g>
<g id="boxes" fill="#fff">
<rect x="900" y="1385" width="165" height="102"/>
<rect x="1356" y="1164" width="156" height="98"/>
<rect x="1500" y="1007" width="150" height="101"/>
<rect x="1656" y="720" width="156" height="97"/>
<rect x="1853" y="720" width="122" height="97"/>
</g>
<g id="frame">

<rect x="167" y="41" width="1134.5" height="7" fill="#000"/>
<rect x="1333" y="41" width="800.5" height="7" fill="#000"/>
<rect x="167" y="1489" width="1132.5" height="7" fill="#000"/>
<rect x="1333.5" y="1489" width="800.5" height="7" fill="#000"/>
<rect x="167" y="41" width="7" height="1455" fill="#000"/>
<rect x="2127" y="41" width="6.5" height="1455" fill="#000"/>

<rect x="214.2" y="1492" width="6.5" height="52.5" fill="#000"/>
<rect x="308.2" y="1492" width="6.5" height="34.5" fill="#000"/>
<rect x="402.1" y="1492" width="6.5" height="52.5" fill="#000"/>
<rect x="496.0" y="1492" width="6.5" height="34.5" fill="#000"/>
<rect x="589.9" y="1492" width="6.5" height="52.5" fill="#000"/>
<rect x="683.9" y="1492" width="6.5" height="34.5" fill="#000"/>
<rect x="777.8" y="1492" width="6.5" height="52.5" fill="#000"/>
<rect x="871.7" y="1492" width="6.5" height="34.5" fill="#000"/>
<rect x="965.6" y="1492" width="6.5" height="52.5" fill="#000"/>
<rect x="1059.5" y="1492" width="6.5" height="34.5" fill="#000"/>
<rect x="1153.5" y="1492" width="6.5" height="52.5" fill="#000"/>
<rect x="1247.4" y="1492" width="6.5" height="34.5" fill="#000"/>
<rect x="1422.0" y="1492" width="6.5" height="34.5" fill="#000"/>
<rect x="1516.0" y="1492" width="6.5" height="52.5" fill="#000"/>
<rect x="1609.9" y="1492" width="6.5" height="34.5" fill="#000"/>
<rect x="1703.9" y="1492" width="6.5" height="52.5" fill="#000"/>
<rect x="1797.9" y="1492" width="6.5" height="34.5" fill="#000"/>
<rect x="1891.8" y="1492" width="6.5" height="52.5" fill="#000"/>
<rect x="1985.8" y="1492" width="6.5" height="34.5" fill="#000"/>
<rect x="2079.8" y="1492" width="6.5" height="52.5" fill="#000"/>

<line x1="1282" y1="17" x2="1314.5" y2="71.5" stroke="#000" stroke-width="6.5"/>
<line x1="1316.3" y1="17" x2="1348.5" y2="71.5" stroke="#000" stroke-width="6.5"/>
<path d="M1281.4,1441 C1285,1456 1288,1468 1291,1477 C1297,1494 1303,1509 1307,1520 C1310,1528 1312.5,1536 1314.8,1543.5" fill="none" stroke="#000" stroke-width="6.5"/>
<path d="M1315.9,1441 C1319.5,1456 1322.5,1468 1325.5,1477 C1331.5,1494 1337.5,1509 1341.5,1520 C1344.5,1528 1347,1536 1349.3,1543.5" fill="none" stroke="#000" stroke-width="6.5"/>

</g>
<g id="text">
<text transform="translate(244.95,249.00) scale(0.7509,0.7511)" font-size="100">Pure PVB</text>
<text transform="translate(233.16,399.00) scale(0.7481,0.7618)" font-size="100">LDPE/PVB</text>
<text transform="translate(218.45,635.50) scale(0.7496,0.7649)" font-size="100">PVB removed LDPE</text>
<text transform="translate(246.14,897.40) scale(0.7520,0.7618)" font-size="100">Pure LDPE</text>
<text transform="translate(909.26,1459.64) scale(0.7431,0.7612)" font-size="100">2915</text>
<text transform="translate(1359.79,1235.72) scale(0.7230,0.7791)" font-size="100">1463</text>
<text transform="translate(1502.18,1082.53) scale(0.7239,0.7687)" font-size="100">1377</text>
<text transform="translate(1658.42,795.02) scale(0.7538,0.7761)" font-size="100">1132</text>
<text transform="translate(1860.22,793.33) scale(0.7273,0.7746)" font-size="100">995</text>
<text transform="translate(141.18,1640.23) scale(0.7634,0.7674)" font-size="100">3800</text>
<text transform="translate(328.48,1640.23) scale(0.7634,0.7674)" font-size="100">3600</text>
<text transform="translate(517.41,1640.23) scale(0.7586,0.7674)" font-size="100">3400</text>
<text transform="translate(704.71,1640.23) scale(0.7586,0.7674)" font-size="100">3200</text>
<text transform="translate(892.01,1640.23) scale(0.7581,0.7674)" font-size="100">3000</text>
<text transform="translate(1079.55,1640.23) scale(0.7661,0.7674)" font-size="100">2800</text>
<text transform="translate(1447.21,1640.23) scale(0.7439,0.7674)" font-size="100">1400</text>
<text transform="translate(1634.51,1640.23) scale(0.7439,0.7674)" font-size="100">1200</text>
<text transform="translate(1821.81,1640.23) scale(0.7439,0.7674)" font-size="100">1000</text>
<text transform="translate(2028.83,1640.23) scale(0.7415,0.7674)" font-size="100">800</text>
<text transform="translate(757.40,1785.50) scale(0.9568,0.9542)" font-size="100">Wave number (cm</text>
<text transform="translate(1459.34,1747.10) scale(0.5878,0.6576)" font-size="100">-1</text>
<text transform="translate(1512.46,1784.19) scale(0.9808,0.9244)" font-size="100">)</text>
<text transform="translate(98.70,1170.11) rotate(-90) scale(0.9536,0.9460)" font-size="100">Trnasmittance</text>
<text transform="translate(104.05,603.92) rotate(-90) scale(0.8955,1.0036)" font-size="100">[</text>
<text transform="translate(98.70,574.04) rotate(-90) scale(0.9555,0.9460)" font-size="100">a.u</text>
<text transform="translate(104.35,460.75) rotate(-90) scale(0.8711,1.0108)" font-size="100">]</text>
</g>
<rect x="0" y="496.9" width="2167" height="1.3" fill="#fff"/>
</svg>
</body></html>
